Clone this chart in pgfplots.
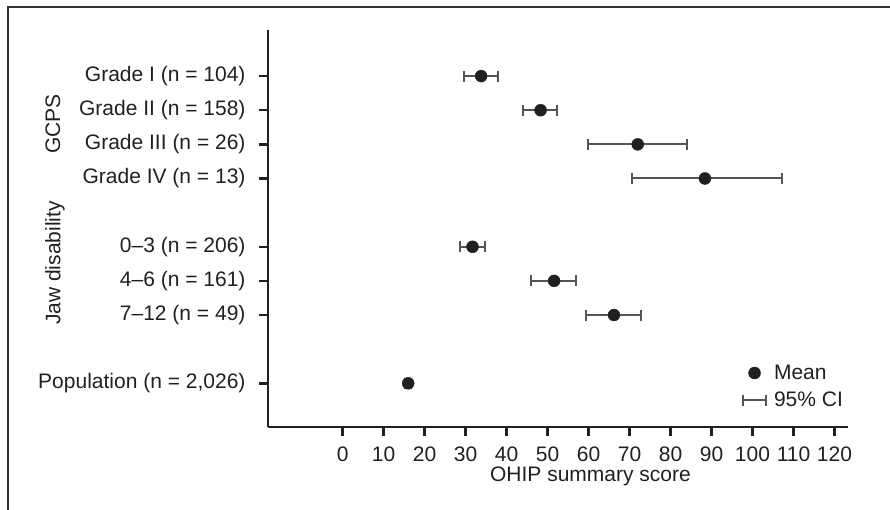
\documentclass[border=0pt]{standalone}
\usepackage{fontspec}
\setmainfont{Liberation Sans}
\usepackage{pgfplots}
\pgfplotsset{compat=1.18}
\usepackage{pgfplotstable}

\definecolor{ink}{HTML}{231F20}
\definecolor{bargray}{HTML}{555555}
\newcommand\f{\fontsize{21}{25}\selectfont}

% y: row position, m: mean, lo/hi: 95% CI
\pgfplotstableread{
y  m     lo    hi
9  33.8  29.5  37.8
8  48.3  43.9  52.2
7  72.0  59.8  84.0
6  88.4  70.5  107.1
4  31.7  28.7  34.8
3  51.6  46.0  57.0
2  66.2  59.3  72.7
0  16.0  15.3  16.7
}\ohip

\begin{document}
\begin{tikzpicture}[x=1pt,y=1pt]
\useasboundingbox (0,0) rectangle (890,-510);
\draw[line width=2pt, black!80] (8,-510) -- (8,-7) -- (890,-7);
\begin{axis}[
    at={(268pt,-427pt)}, anchor=south west,
    scale only axis, width=580pt, height=397pt,
    xmin=-18.2, xmax=123.3, ymin=-1.28, ymax=10.35,
    axis lines=left,
    axis line style={-, line width=2.5pt, ink},
    xtick={0,10,...,120},
    ytick={0,2,3,4,6,7,8,9},
    yticklabels={{Population (n = 2,026)},{7–12 (n = 49)},{4–6 (n = 161)},{0–3 (n = 206)},
                 {Grade IV (n = 13)},{Grade III (n = 26)},{Grade II (n = 158)},{Grade I (n = 104)}},
    tick align=outside, major tick length=9pt,
    tick style={line width=2.5pt, ink},
    ticklabel style={font=\f, text=ink},
    yticklabel style={xshift=-10pt},
    xticklabel style={yshift=-7pt},
    /pgf/number format/assume math mode=true,
    xlabel={OHIP summary score},
    xlabel style={font=\f, text=ink, at={(axis description cs:0.556,0)}, anchor=north, yshift=-36pt},
    legend style={draw=none, fill=none, font=\f, text=ink, at={(axis cs:97.4,0.6)},
                  anchor=north west, row sep=7pt, column sep=5pt, inner sep=0pt},
    legend cell align=left,
]
\addplot[only marks, mark=*, mark size=6pt, mark options={fill=ink, draw=ink}, forget plot,
    error bars/.cd, x dir=both, x explicit,
    error bar style={line width=2pt, bargray},
    error mark options={rotate=90, line width=2pt, bargray, mark size=5.5pt}]
    table[x=m, y=y, x error plus expr=\thisrow{hi}-\thisrow{m},
          x error minus expr=\thisrow{m}-\thisrow{lo}] {\ohip};

\addlegendimage{legend image code/.code={\fill[ink] (11.5pt,0pt) circle (6pt);}}
\addlegendimage{legend image code/.code={\draw[bargray, line width=2pt]
    (0pt,0pt) -- (23pt,0pt) (0pt,-5.5pt) -- (0pt,5.5pt) (23pt,-5.5pt) -- (23pt,5.5pt);}}
\legend{Mean, 95\% CI}
\end{axis}
\node[rotate=90, font=\f, text=ink] at (53,-124) {GCPS};
\node[rotate=90, font=\f, text=ink] at (55,-263) {Jaw disability};
\end{tikzpicture}
\end{document}
